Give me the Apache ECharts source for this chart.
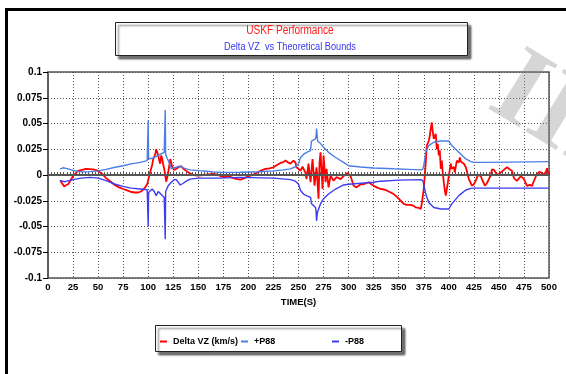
<!DOCTYPE html>
<html>
<head>
<meta charset="utf-8">
<script src="https://cdn.jsdelivr.net/npm/echarts@6/dist/echarts.min.js"></script>
<style>
  html, body { margin: 0; padding: 0; background: #fff; }
  #chart { width: 566px; height: 374px; }
</style>
</head>
<body>
<div id="chart"></div>
<script>
// Delta VZ error history (time in s, value in km/s)
const deltaT = [12,14,16,18,20,22,25,28,30,34,38,42,45,48,50,54,58,62,67,71,75,79,83,87,90,93,95,97,99,
  101,102,104,105,107,108,109,110,111,112,113,114,115,116,117,118,119,120,121,122,123,124,126,128,130,133,135,138,141,145,150,155,160,165,170,172,
  176,180,185,189,192,196,200,204,208,212,217,221,225,229,232,235,237,240,242,245,247,248,250,252,254,255,257,258,260,262,264,266,268,270,271,272,274,275,277,278,280,282,285,288,292,295,297,299,
  302,305,308,312,315,320,325,328,332,335,338,342,345,349,352,355,358,362,365,367,370,372,373,375,377,378,380,381,382,383,384,385,386,387,388,389,390,391,392,393,394,395,396,397,398,399,
  400,401,402,403,405,406,408,410,411,412,413,415,417,419,420,422,423,425,427,429,430,432,433,435,436,438,440,442,443,445,447,448,450,452,455,458,460,463,465,468,472,475,478,481,483,487,490,492,494,495,497,498,499,500];
const deltaV = [-0.005,-0.008,-0.011,-0.010,-0.009,-0.006,-0.001,0.002,0.004,0.005,0.006,0.0058,0.0055,0.0048,0.004,0.001,-0.003,-0.006,-0.010,-0.012,-0.0136,-0.015,-0.0165,-0.017,-0.017,-0.016,-0.014,-0.012,-0.009,
  -0.001,0.003,0.010,0.0155,0.020,0.025,0.022,0.019,0.014,0.011,0.019,0.016,0.010,0.006,0.000,-0.0065,-0.002,0.0026,0.009,0.0155,0.012,0.0075,0.005,0.006,0.0075,0.0085,0.006,0.004,0.002,0.000,-0.0005,0.000,0.0005,0.001,0.000,-0.001,
  -0.002,-0.001,-0.003,-0.004,-0.0045,-0.003,-0.0013,0.000,0.002,0.004,0.006,0.0065,0.0075,0.010,0.0117,0.0125,0.014,0.012,0.011,0.014,0.012,0.0075,0.006,0.004,0.008,0.009,0.002,-0.004,0.011,-0.007,0.0155,-0.0104,0.0075,-0.023,0.012,0.022,-0.0136,0.019,-0.007,0.006,-0.012,-0.0006,-0.0055,-0.002,-0.004,-0.001,0.000,0.002,
  -0.0013,-0.0104,-0.012,-0.009,-0.009,-0.007,-0.0104,-0.012,-0.0136,-0.014,-0.015,-0.017,-0.0185,-0.022,-0.025,-0.028,-0.029,-0.029,-0.030,-0.0315,-0.032,-0.033,-0.028,-0.0136,0.012,0.0286,0.033,0.038,0.045,0.051,0.042,0.035,0.038,0.040,0.025,0.030,0.019,0.024,0.006,0.014,0.002,-0.007,-0.015,-0.020,-0.0136,-0.008,
  -0.0006,0.005,0.011,0.006,0.008,0.0026,0.014,0.012,0.017,0.013,0.014,0.011,0.0075,0.000,-0.004,-0.008,-0.0104,-0.009,-0.0055,0.000,0.001,-0.001,-0.004,-0.008,-0.0104,-0.008,-0.004,0.000,0.0055,0.005,0.002,0.000,0.001,0.0026,0.005,0.0075,0.006,0.004,-0.003,-0.0057,-0.001,-0.004,-0.0106,-0.0095,-0.0106,-0.001,0.003,0.0026,0.000,0.001,0.003,0.0065,0.002,-0.001];

// Theoretical +P88 bound
const upperT = [12,15,20,25,30,35,40,45,50,58,67,75,83,92,99,99.6,100,100.4,102,104,106,108,110,112,114,116,116.6,117,117.4,119,121,123,125,128,131,133,135,138,142,150,158,165,172,180,192,210,225,235,242,247,250,252,255,258,262,263,265,267,267.6,268,268.5,269,272,275,280,287,295,300,312,325,345,360,372,374,375,377,380,385,392,400,403,410,417,422,425,442,443,500];
const upperV = [0.006,0.007,0.006,0.0045,0.0035,0.003,0.003,0.0035,0.004,0.0055,0.0075,0.009,0.0108,0.0123,0.014,0.014,0.053,0.016,0.015,0.016,0.017,0.018,0.019,0.020,0.021,0.022,0.022,0.063,0.020,0.016,0.012,0.006,0.007,0.0075,0.0085,0.0085,0.007,0.006,0.005,0.0042,0.0036,0.003,0.0026,0.0025,0.0026,0.0032,0.004,0.005,0.006,0.008,0.011,0.017,0.020,0.022,0.0237,0.033,0.034,0.035,0.038,0.045,0.040,0.033,0.0305,0.027,0.022,0.017,0.0123,0.009,0.0078,0.0068,0.006,0.0055,0.005,0.0055,0.009,0.022,0.0286,0.0318,0.033,0.033,0.0286,0.022,0.0156,0.013,0.0123,0.0123,0.013,0.013];

// Theoretical -P88 bound
const lowerT = [12,17,25,33,42,50,58,67,75,83,92,99,99.6,100,100.4,102,104,106,108,110,112,114,116,116.6,117,117.4,120,123,126,128,132,135,138,142,150,172,192,225,242,247,250,252,255,258,262,263,267,267.6,268,268.5,269,272,275,280,287,295,300,325,332,350,372,374,375,377,380,385,392,400,403,410,417,422,425,500];
const lowerV = [-0.0055,-0.0065,-0.0045,-0.003,-0.0023,-0.003,-0.0055,-0.009,-0.011,-0.0127,-0.0136,-0.0143,-0.0143,-0.050,-0.017,-0.016,-0.0136,-0.016,-0.020,-0.016,-0.018,-0.020,-0.0218,-0.022,-0.0623,-0.016,-0.0104,-0.007,-0.0045,-0.0045,-0.0097,-0.008,-0.006,-0.004,-0.003,-0.003,-0.0023,-0.003,-0.0045,-0.006,-0.009,-0.015,-0.0185,-0.020,-0.0218,-0.028,-0.0315,-0.036,-0.0445,-0.040,-0.036,-0.028,-0.023,-0.0185,-0.0136,-0.0097,-0.009,-0.007,-0.006,-0.005,-0.0045,-0.0055,-0.009,-0.0185,-0.0266,-0.0315,-0.033,-0.033,-0.028,-0.020,-0.0146,-0.013,-0.0127,-0.0127];

const xTicks = { min: 0, max: 500, step: 25 };
const yTicks = { min: -0.1, max: 0.1, step: 0.025 };

const seriesNames = ['Delta VZ (km/s)', '+P88', '-P88'];
const seriesColors = ['#ff0000', '#4a7ee6', '#3c3cf2'];

const zip = (t, v) => t.map((x, i) => [x, v[i]]);
const FONT = "'Liberation Sans', Arial, sans-serif";

const chart = echarts.init(document.getElementById('chart'), null, { renderer: 'canvas' });

const legendAt = (name, left) => ({
  data: [name], left: left, top: 332, icon: 'rect', itemWidth: 7, itemHeight: 2,
  textStyle: { fontFamily: FONT, fontSize: 9, fontWeight: 'bold', color: '#000', padding: [0, 0, 0, 1] },
  selectedMode: false, z: 10
});

const boxStyle = { fill: '#fff', stroke: '#222', lineWidth: 1, shadowColor: 'rgba(0,0,0,0.55)', shadowOffsetX: 3, shadowOffsetY: 3, shadowBlur: 2 };

chart.setOption({
  animation: false,
  backgroundColor: '#ffffff',
  grid: { left: 48, right: 17, top: 72, bottom: 96, show: true, borderColor: '#555', borderWidth: 1.5, backgroundColor: 'transparent' },
  xAxis: {
    type: 'value', min: xTicks.min, max: xTicks.max, interval: xTicks.step,
    name: 'TIME(S)', nameLocation: 'middle', nameGap: 19,
    nameTextStyle: { fontFamily: FONT, fontSize: 9.5, fontWeight: 'bold', color: '#000' },
    axisLine: { show: true, lineStyle: { color: '#555', width: 1.5 } },
    axisTick: { show: true, inside: true, length: 4, lineStyle: { color: '#555' } },
    minorTick: { show: true, splitNumber: 8, length: 3, lineStyle: { color: '#555' } },
    axisLabel: { fontFamily: FONT, fontSize: 9.5, fontWeight: 'bold', color: '#000', margin: 4 },
    splitLine: { show: true, lineStyle: { color: '#555', type: [1, 2], width: 1 } }
  },
  yAxis: {
    type: 'value', min: yTicks.min, max: yTicks.max, interval: yTicks.step,
    axisLine: { show: true, lineStyle: { color: '#555', width: 1.5 } },
    axisTick: { show: true, inside: false, length: 5, lineStyle: { color: '#000' } },
    axisLabel: {
      fontFamily: FONT, fontSize: 10, fontWeight: 'bold', color: '#000', margin: 6,
      formatter: v => String(parseFloat(v.toFixed(3)))
    },
    splitLine: { show: true, lineStyle: { color: '#555', type: [1, 2], width: 1 } }
  },
  legend: [legendAt(seriesNames[0], 155), legendAt(seriesNames[1], 236), legendAt(seriesNames[2], 327)],
  graphic: [
    // outer frame edges
    { type: 'rect', shape: { x: 5, y: 8, width: 561, height: 3 }, style: { fill: '#000' }, z: 1 },
    { type: 'rect', shape: { x: 5, y: 8, width: 3, height: 366 }, style: { fill: '#000' }, z: 1 },
    // title box
    { type: 'rect', shape: { x: 115.5, y: 22.5, width: 352, height: 33 }, style: boxStyle, z: 1 },
    { type: 'text', x: 290, y: 31, scaleX: 0.84, z: 5,
      style: { text: 'USKF Performance', fill: '#ff1a1a', font: `12px ${FONT}`, textAlign: 'center', textVerticalAlign: 'middle' } },
    { type: 'text', x: 290, y: 47, scaleX: 0.8, z: 5,
      style: { text: 'Delta VZ  vs Theoretical Bounds', fill: '#3535ee', font: `11.5px ${FONT}`, textAlign: 'center', textVerticalAlign: 'middle' } },
    // legend box
    { type: 'rect', shape: { x: 155.5, y: 325.5, width: 246, height: 26 }, style: boxStyle, z: 1 },
    // faint watermark lettering at the right edge
    { type: 'text', x: 556, y: 116, rotation: -0.55, z: 100,
      style: { text: 'III', fill: 'rgba(140,140,140,0.36)', font: `bold 112px 'Liberation Serif', 'DejaVu Serif', serif`, textAlign: 'center', textVerticalAlign: 'middle' } }
  ],
  series: [
    { name: seriesNames[0], type: 'line', data: zip(deltaT, deltaV), symbol: 'none', color: seriesColors[0],
      lineStyle: { width: 1.8, color: seriesColors[0] },
      markLine: { silent: true, symbol: 'none', label: { show: false }, data: [{ yAxis: 0 }],
        lineStyle: { color: '#555', width: 2, type: 'solid' } } },
    { name: seriesNames[1], type: 'line', data: zip(upperT, upperV), symbol: 'none', color: seriesColors[1],
      lineStyle: { width: 1.4, color: seriesColors[1] } },
    { name: seriesNames[2], type: 'line', data: zip(lowerT, lowerV), symbol: 'none', color: seriesColors[2],
      lineStyle: { width: 1.4, color: seriesColors[2] } }
  ]
});
</script>
</body>
</html>
